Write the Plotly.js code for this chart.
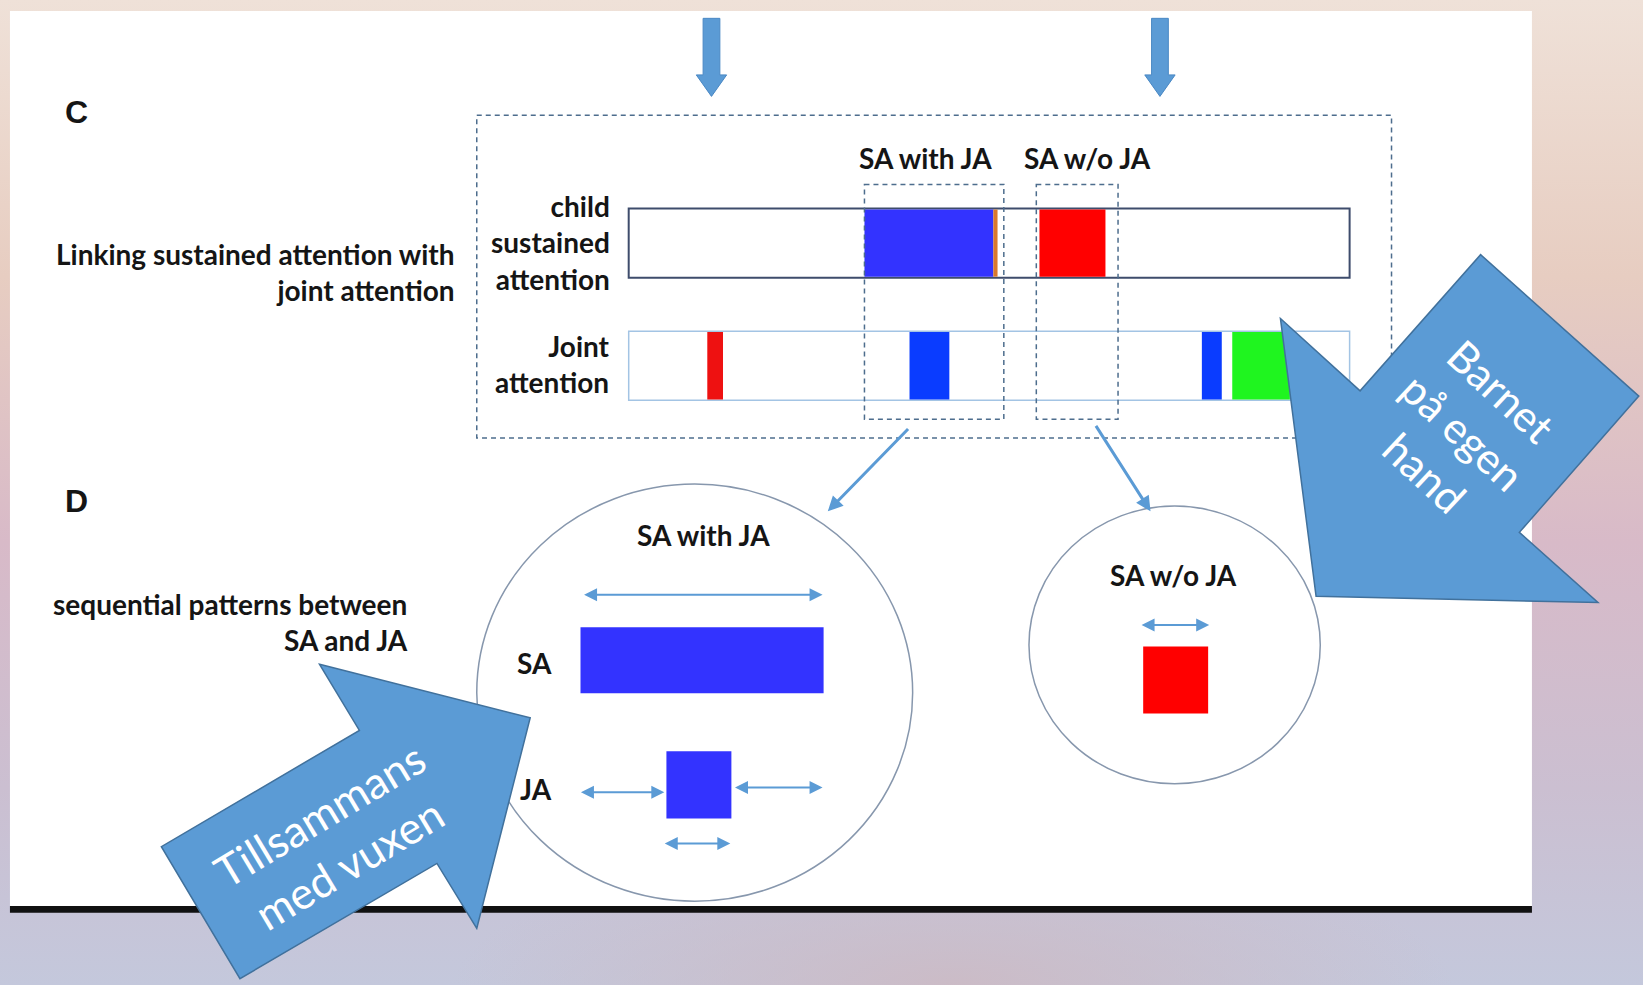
<!DOCTYPE html>
<html>
<head>
<meta charset="utf-8">
<script src="https://cdn.plot.ly/plotly-3.0.1.min.js"></script>
<style>
html,body{margin:0;padding:0;}
body{width:1643px;height:985px;overflow:hidden;
background:
 radial-gradient(ellipse 500px 140px at 58% 100%, rgba(204,186,196,0.9), rgba(204,186,196,0) 100%),
 linear-gradient(180deg,#efe1d8 0%,#e7cdc1 28%,#d8bac8 55%,#cbbfd1 80%,#c4c8dc 100%);}
#chart{width:1643px;height:985px;}
</style>
</head>
<body>
<div id="chart"></div>
<script>
// ---------- data (timeline units = horizontal position along the session) ----------
const rowNames = ['child sustained attention', 'Joint attention'];
const timelineStart = 600;
const timelineEnd = 1288;
// child sustained attention episodes
const saStart = [825, 948, 992];
const saEnd   = [948, 952, 1055];
const saColor = ['#3333ff', '#d9782d', '#ff0000'];
// joint attention episodes
const jaStart = [675, 868, 1147, 1176];
const jaEnd   = [690, 906, 1166, 1231];
const jaColor = ['#ee1111', '#0a3cff', '#0a3cff', '#1ff51f'];
// D: sequential pattern examples
const patternNames = ['SA', 'JA', 'SA w/o JA'];
const patternStart = [554, 636, 1091];
const patternEnd   = [786, 698, 1153];
const patternColor = ['#3333ff', '#3333ff', '#ff0000'];

// ---------- layout constants ----------
const W = 1643, H = 985, UX = 1568, UY = 940;
const rowY = [232, 349], rowH = 66;
const patternY = [630, 749, 649], patternH = [63, 64, 64];
const ARROW = '#5b9bd5', ARROWEDGE = '#41719c', DASH = '#4d6d8d';
const TXT = '#151515';
const bold = {family: 'Lato, "Noto Sans", sans-serif', size: 28, color: TXT, weight: 700};

const traces = [];
// timeline backgrounds
traces.push({type:'bar', orientation:'h', y:[rowY[0]], base:[timelineStart], x:[timelineEnd-timelineStart],
  width:rowH, marker:{color:'#ffffff', line:{color:'#3e4c6c', width:2}}, hoverinfo:'skip', name:rowNames[0]});
traces.push({type:'bar', orientation:'h', y:[rowY[1]], base:[timelineStart], x:[timelineEnd-timelineStart],
  width:rowH, marker:{color:'#ffffff', line:{color:'#a3c4e4', width:1.5}}, hoverinfo:'skip', name:rowNames[1]});
traces.push({type:'bar', orientation:'h', y:saStart.map(()=>rowY[0]), base:saStart,
  x:saStart.map((s,i)=>saEnd[i]-s), width:rowH-2, marker:{color:saColor, line:{width:0}}, hoverinfo:'skip', name:'SA'});
traces.push({type:'bar', orientation:'h', y:jaStart.map(()=>rowY[1]), base:jaStart,
  x:jaStart.map((s,i)=>jaEnd[i]-s), width:rowH-1.5, marker:{color:jaColor, line:{width:0}}, hoverinfo:'skip', name:'JA'});
traces.push({type:'bar', orientation:'h', y:patternY, base:patternStart,
  x:patternStart.map((s,i)=>patternEnd[i]-s), width:patternH, marker:{color:patternColor, line:{width:0}},
  hoverinfo:'skip', name:'patterns', text:patternNames, textposition:'none'});

function poly(pts){ return 'M' + pts.map(p=>p[0]+','+p[1]).join(' L') + ' Z'; }
function downArrow(cx){
  return poly([[cx-8,17.5],[cx+8,17.5],[cx+8,71.5],[cx+14.5,71.5],[cx,92],[cx-14.5,71.5],[cx-8,71.5]]);
}
const barnetArrow = [[1222,304],[1298,373],[1413,243],[1564,378],[1450,508],[1525,575],[1256,569]];
const tillArrow = [[305,634],[506,685],[455,886],[417,824],[229,934],[154,808],[343,697]];

const shapes = [
  {type:'rect', layer:'below', x0:9.5, x1:1462, y0:10.5, y1:864.5, fillcolor:'#ffffff', line:{width:0}},
  {type:'rect', layer:'below', x0:9.5, x1:1462, y0:864.5, y1:871, fillcolor:'#111111', line:{width:0}},
  {type:'path', path:downArrow(679), fillcolor:ARROW, line:{color:'#4a88c4', width:1}},
  {type:'path', path:downArrow(1107), fillcolor:ARROW, line:{color:'#4a88c4', width:1}},
  {type:'rect', x0:455, x1:1328, y0:110, y1:418, line:{color:DASH, width:1.5, dash:'5px,4px'}},
  {type:'rect', x0:825, x1:958, y0:176, y1:400, line:{color:DASH, width:1.5, dash:'5px,4px'}},
  {type:'rect', x0:989, x1:1067, y0:176, y1:400, line:{color:DASH, width:1.5, dash:'5px,4px'}},
  {type:'circle', x0:455, x1:871, y0:462, y1:860, line:{color:'#8797ad', width:1.5}},
  {type:'circle', x0:982, x1:1260, y0:483, y1:748, line:{color:'#8797ad', width:1.5}},
  {type:'path', path:poly(barnetArrow), fillcolor:ARROW, line:{color:ARROWEDGE, width:1.5}},
  {type:'path', path:poly(tillArrow), fillcolor:ARROW, line:{color:ARROWEDGE, width:1.5}}
];

function txt(x, y, text, font, xanchor, align){
  return {x:x, y:y, xref:'x', yref:'y', text:text, showarrow:false, font:font,
    xanchor:xanchor||'center', yanchor:'middle', align:align||'center'};
}
const annotations = [
  txt(73, 107, 'C', {family:'"Liberation Sans", Arial, sans-serif', size:32, color:TXT, weight:700}),
  txt(73, 478, 'D', {family:'"Liberation Sans", Arial, sans-serif', size:32, color:TXT, weight:700}),
  txt(436.5, 260, 'Linking sustained attention with<br>joint attention', bold, 'right', 'right'),
  txt(584.5, 231.5, 'child<br>sustained<br>attention', bold, 'right', 'right'),
  txt(584.5, 347, 'Joint<br>attention', bold, 'right', 'right'),
  txt(883, 151, 'SA with JA', bold),
  txt(1038, 151, 'SA w/o JA', bold),
  txt(391.5, 594, 'sequential patterns between<br>SA and JA', bold, 'right', 'right'),
  txt(671, 511, 'SA with JA', bold),
  txt(510, 633, 'SA', bold),
  txt(512, 753, 'JA', bold),
  txt(1120, 549, 'SA w/o JA', bold)
];
// white text inside block arrows
annotations.push({x:1396, y:412, xref:'x', yref:'y', showarrow:false, text:'Barnet<br>på egen<br>hand',
  textangle:43, font:{family:'Lato, "Open Sans", sans-serif', size:43, color:'#ffffff'}, align:'center'});
annotations.push({x:319, y:800, xref:'x', yref:'y', showarrow:false, text:'Tillsammans<br>med vuxen',
  textangle:-31, font:{family:'Lato, "Open Sans", sans-serif', size:44, color:'#ffffff'}, align:'center'});

function arrow(x0, y0, x1, y1, w, both){
  return {x:x1, y:y1, ax:x0, ay:y0, xref:'x', yref:'y', axref:'x', ayref:'y', text:'', showarrow:true,
    arrowhead:2, startarrowhead:2, arrowsize: both?1.3:1, startarrowsize: both?1.3:1,
    arrowwidth:w, arrowcolor:ARROW, arrowside: both?'end+start':'end', standoff:0, startstandoff:0};
}
annotations.push(arrow(868, 408, 790, 488, 3, false));
annotations.push(arrow(1045, 405, 1098, 488, 3, false));
[[567.5,556,785],[756,553,634],[751.5,700,785],[805,633,697],[596.5,1088,1154]].forEach(a=>{
  annotations.push(arrow(a[1], a[0], a[2], a[0], 2, true));
});

const layout = {
  width:W, height:H, autosize:false,
  margin:{l:0, r:0, t:0, b:0, pad:0},
  paper_bgcolor:'rgba(0,0,0,0)', plot_bgcolor:'rgba(0,0,0,0)',
  showlegend:false, barmode:'overlay', hovermode:false,
  xaxis:{range:[0, UX], visible:false, fixedrange:true},
  yaxis:{range:[UY, 0], visible:false, fixedrange:true},
  shapes:shapes, annotations:annotations
};
Plotly.newPlot('chart', traces, layout, {displayModeBar:false, staticPlot:true});
</script>
</body>
</html>
